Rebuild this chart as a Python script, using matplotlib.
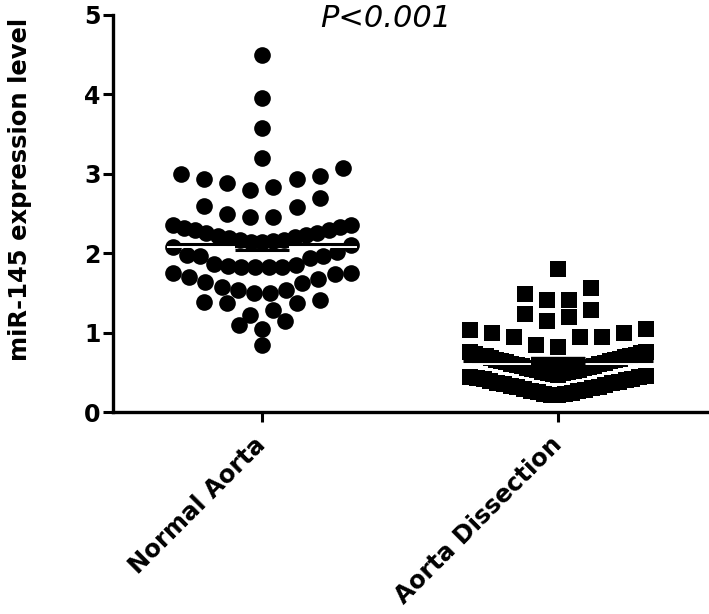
import numpy as np
import matplotlib
matplotlib.use("Agg")
import matplotlib.pyplot as plt
from matplotlib.transforms import offset_copy

plt.rcParams['font.family'] = ['DejaVu Sans']

# ---------------- data ----------------
groups = ["Normal Aorta", "Aorta Dissection"]

normal_aorta = [4.50, 3.95, 3.58, 3.20,
                3.07, 3.00, 2.97, 2.94, 2.93, 2.88, 2.83, 2.80,
                2.69, 2.60, 2.58, 2.50, 2.46, 2.46,
                2.36, 2.36, 2.33, 2.32, 2.29, 2.29, 2.26, 2.25, 2.23,
                2.22, 2.20, 2.19, 2.17, 2.16, 2.15, 2.14, 2.14,
                2.10, 2.08, 2.02, 1.98, 1.96, 1.96, 1.94, 1.87,
                1.85, 1.84, 1.83, 1.83, 1.82, 1.82,
                1.75, 1.75, 1.74, 1.70, 1.68, 1.64, 1.62, 1.58,
                1.54, 1.54, 1.50, 1.50,
                1.41, 1.39, 1.37, 1.37, 1.28, 1.22,
                1.14, 1.10, 1.05,
                0.84]

aorta_dissection = [1.80,
                    1.56, 1.49, 1.41, 1.41,
                    1.28, 1.24, 1.20, 1.14,
                    1.05, 1.03, 1.00, 1.00, 0.95, 0.95, 0.95, 0.84, 0.82,
                    0.75, 0.75, 0.74, 0.73, 0.72, 0.71, 0.70, 0.70, 0.69,
                    0.68, 0.67, 0.66, 0.65, 0.64, 0.64, 0.63, 0.62, 0.61,
                    0.60, 0.59, 0.58, 0.58, 0.57, 0.56, 0.55, 0.54, 0.53,
                    0.53, 0.52, 0.51, 0.50, 0.49, 0.49, 0.48, 0.47,
                    0.45, 0.44, 0.44, 0.43, 0.42, 0.41, 0.40, 0.39, 0.38,
                    0.37, 0.36, 0.35, 0.34, 0.33, 0.32, 0.31, 0.30, 0.29,
                    0.28, 0.27, 0.26, 0.25, 0.24, 0.23, 0.23, 0.22, 0.21]

y_ticks = [0, 1, 2, 3, 4, 5]
y_label = "miR-145 expression level"
p_text = "P<0.001"


# ---------------- prism-like scatter layout ----------------
def row_layout(vals, origin, step, slot, half):
    # bin values into rows, spread each row from the centre outwards
    vals = np.sort(np.asarray(vals, dtype=float))
    rows = np.floor((vals - origin) / step).astype(int)
    xs, ys = [], []
    for r in np.unique(rows):
        v = vals[rows == r]
        k = len(v)
        s = slot if k < 2 else min(slot, 2 * half / (k - 1))
        offs = (np.arange(k) - (k - 1) / 2) * s
        order = sorted(range(k), key=lambda i: (round(abs(offs[i]), 9), offs[i]))
        for val, i in zip(v, order):
            xs.append(offs[i])
            ys.append(val)
    return np.array(xs), np.array(ys)


fig = plt.figure(figsize=(7.09, 6.14), dpi=100)
ax = fig.add_axes([113 / 709, 202 / 614, 596 / 709, 397 / 614])

nx, ny = row_layout(normal_aorta, 2.13, 0.32, 0.078, 0.30)
dx, dy = row_layout(aorta_dissection, 0.46, 0.30, 0.075, 0.297)

ax.scatter(0 + nx, ny, s=144, marker='o', color='black', linewidths=0, zorder=2)
ax.scatter(1 + dx, dy, s=144, marker='s', color='black', linewidths=0, zorder=2)

# mean and SEM
mean_w = 0.32
cap_w = 0.09
white_tr = offset_copy(ax.transData, fig=fig, y=-3, units='dots')
for i, vals in enumerate([normal_aorta, aorta_dissection]):
    v = np.asarray(vals)
    m = v.mean()
    sem = v.std(ddof=1) / np.sqrt(len(v))
    ax.hlines(m, i - mean_w, i - cap_w, color='white', lw=1.4, zorder=3, transform=white_tr)
    ax.hlines(m, i + cap_w, i + mean_w, color='white', lw=1.4, zorder=3, transform=white_tr)
    ax.hlines(m, i - mean_w, i + mean_w, color='black', lw=2.2, zorder=4)
    ax.hlines([m - sem, m + sem], i - cap_w, i + cap_w, color='black', lw=2.2, zorder=4)
    ax.vlines(i, m - sem, m + sem, color='black', lw=2.2, zorder=4)
    ax.hlines(m, i - cap_w, i + cap_w, color='black', lw=6, zorder=4)

ax.set_xlim(-0.503, 1.51)
ax.set_ylim(0, 5)
ax.set_yticks(y_ticks)
ax.set_yticklabels([str(t) for t in y_ticks], fontsize=17, fontweight='bold')
ax.set_xticks([0, 1])
ax.set_xticklabels(groups, fontsize=17.5, fontweight='bold', rotation=45,
                   ha='right', va='center', rotation_mode='anchor')

for side in ['top', 'right']:
    ax.spines[side].set_visible(False)
for side in ['left', 'bottom']:
    ax.spines[side].set_linewidth(2.4)
ax.tick_params(axis='both', direction='out', length=7, width=2.2, pad=2)
ax.tick_params(axis='x', pad=14)

ax.set_ylabel(y_label, fontsize=17.5, fontweight='bold')
ax.yaxis.set_label_coords(-0.136, 0.56)

fig.text(386 / 709, 1 - 27 / 614, p_text, fontsize=22, style='italic',
         ha='center', va='baseline')

fig.savefig("out.png", dpi=100)
